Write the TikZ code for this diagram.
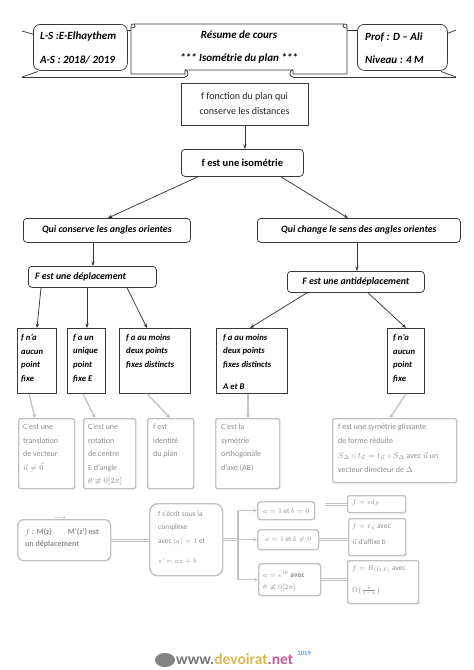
\documentclass[tikz,border=0pt]{standalone}
\usepackage{fontspec}
\setmainfont{Carlito}
\usepackage{amsmath,amssymb}
\usetikzlibrary{arrows.meta,calc}
\definecolor{devgold}{rgb}{0.86,0.72,0.32}
\definecolor{devmag}{rgb}{0.76,0.35,0.62}
\definecolor{devblue}{rgb}{0.35,0.62,0.88}
\begin{document}
\begin{tikzpicture}[x=1pt,y=-1pt,
  ln/.style={draw=black!78, line width=0.75pt},
  arr/.style={ln, -{Stealth[length=4.5pt,width=3.4pt]}},
  rbox/.style={ln, rounded corners=3.5pt, fill=white, inner sep=0pt, anchor=north west},
  sbox/.style={ln, fill=white, inner sep=0pt, anchor=north west},
  hd/.style={inner sep=0pt, font=\fontsize{11}{13}\selectfont\bfseries\itshape},
  lbl/.style={font=\fontsize{9.8}{12}\selectfont\bfseries\itshape},
  txt/.style={inner sep=0pt, align=left, anchor=north west, font=\fontsize{8.7}{13.6}\selectfont\bfseries\itshape},
  fbox/.style={draw=black!24, line width=1.4pt, rounded corners=1.5pt, inner sep=0pt, anchor=north west},
  frbox/.style={fbox, rounded corners=6pt},
  ftxt/.style={inner sep=0pt, align=left, anchor=north west, text=black!45, font=\fontsize{8}{13.5}\selectfont},
  farr/.style={draw=black!24, line width=1.3pt, -{Stealth[length=4pt,width=4pt]}},
  fdouble/.style={draw=black!24, double=white, double distance=1.4pt, line width=0.8pt}
]
\useasboundingbox (0,0) rectangle (474,670);

% ---------- header ribbon ----------
\draw[ln] (22,31) -- (34,34.5);
\draw[ln] (22,77) -- (38,71.5);
\draw[ln] (22,77) -- (185,77);
\draw[ln] (456,30) -- (446,34);
\draw[ln] (456,77) -- (441,71.5);
\draw[ln] (293,77) -- (456,77);
\draw[ln] (127,30) -- (131,30);
\draw[ln] (347,30) -- (357,30);
\node[rbox, rounded corners=7pt, minimum width=94pt, minimum height=46pt] (lb) at (33,24) {};
\node[rbox, rounded corners=7pt, minimum width=90pt, minimum height=46pt] (rb) at (357,24) {};
\draw[ln, fill=white] (131,27) .. controls (131,24) .. (134,24) -- (344,24) .. controls (347,24) .. (347,27)
  -- (347,74) -- (293,74) -- (293,70) -- (185,70) -- (185,74) -- (131,74) -- cycle;
\draw[ln] (185,70) .. controls (189,70) and (189,77) .. (185,77);
\draw[ln] (293,70) .. controls (289,70) and (289,77) .. (293,77);
\draw[ln] (134,24) .. controls (136,25) and (136,28) .. (131,28);
\draw[ln] (344,24) .. controls (342,25) and (342,28) .. (347,28);
\node[hd, anchor=west] (ls) at (40,37) {L-S :E-Elhaythem};
\node[hd, anchor=west] (as) at (40,60) {A-S : 2018/ 2019};
\node[hd] (rc) at (239,35) {Résume de cours};
\node[hd] (iso-t) at (239,58) {*** Isométrie du plan ***};
\node[hd, anchor=west] (pr) at (365,37) {Prof : D – Ali};
\node[hd, anchor=west] (nv) at (365,60) {Niveau : 4 M};

% ---------- main tree ----------
\node[sbox, minimum width=127pt, minimum height=42pt] (ff) at (181,83) {};
\node[inner sep=0pt, align=center, text=black!85, font=\fontsize{10}{15}\selectfont] (ff-t) at (244.5,103.5) {f fonction du plan qui\\conserve les distances};
\node[rbox, minimum width=122pt, minimum height=27pt] (iso) at (181,149) {};
\node[inner sep=0pt, font=\fontsize{10.5}{12}\selectfont\bfseries] (iso-l) at (iso.center) {f est une isométrie};
\node[rbox, minimum width=167pt, minimum height=24pt] (qc) at (23,218) {};
\node[lbl, inner sep=0pt] (qc-l) at (qc.center) {Qui conserve les angles orientes};
\node[rbox, minimum width=203pt, minimum height=24pt] (qch) at (257,218) {};
\node[lbl, inner sep=0pt] (qch-l) at (qch.center) {Qui change le sens des angles orientes};
\node[rbox, minimum width=128pt, minimum height=21pt] (dep) at (28,266) {};
\node[lbl, inner sep=0pt, anchor=west] (dep-l) at ([xshift=7pt]dep.west) {F est une déplacement};
\node[rbox, minimum width=137pt, minimum height=21pt] (anti) at (287,271) {};
\node[lbl, inner sep=0pt] (anti-l) at (anti.center) {F est une antidéplacement};

\node[sbox, minimum width=39pt, minimum height=65pt] (b1) at (17,328) {};
\node[sbox, minimum width=38pt, minimum height=65pt] (b2) at (67,328) {};
\node[sbox, minimum width=71pt, minimum height=65pt] (b3) at (119,328) {};
\node[sbox, minimum width=71pt, minimum height=65pt] (b4) at (216,328) {};
\node[sbox, minimum width=37pt, minimum height=65pt] (b5) at (387,328) {};
\node[txt] (b1-t) at (21,334) {f n’a\\aucun\\point\\fixe};
\node[txt] (b2-t) at (73,334) {f a un\\unique\\point\\fixe E};
\node[txt] (b3-t) at (126,334) {f a au moins\\deux points\\fixes distincts};
\node[txt] (b4-t) at (223,334) {f a au moins\\deux points\\fixes distincts\\[8.4pt]A et B};
\node[txt] (b5-t) at (393,334) {f n’a\\aucun\\point\\fixe};

\draw[arr] (ff.south) -- (ff.south |- iso.north);
\draw[arr] ([xshift=17pt]iso.south west) -- ([xshift=85pt]qc.north west);
\draw[arr] ([xshift=-23pt]iso.south east) -- ([xshift=91pt]qch.north west);
\draw[arr] ([xshift=70pt]qc.south west) -- ([xshift=65pt]dep.north west);
\draw[arr] ([xshift=100pt]qch.south west) -- ([xshift=70pt]anti.north west);
\draw[arr] ([xshift=13pt]dep.south west) -- ([xshift=20pt]b1.north west);
\draw[arr] ([xshift=59pt]dep.south west) -- ([xshift=20pt]b2.north west);
\draw[arr] ([xshift=99pt]dep.south west) -- ([xshift=28pt]b3.north west);
\draw[arr] ([xshift=20pt]anti.south west) -- ([xshift=34pt]b4.north west);
\draw[arr] ([xshift=81pt]anti.south west) -- ([xshift=19pt]b5.north west);

% ---------- blurred lower part ----------
\node[fbox, minimum width=56pt, minimum height=70pt] (c1) at (18,418) {};
\node[fbox, minimum width=52pt, minimum height=70pt] (c2) at (83,418) {};
\node[fbox, minimum width=46pt, minimum height=70pt] (c3) at (147,418) {};
\node[fbox, minimum width=64pt, minimum height=70pt] (c4) at (215,418) {};
\node[fbox, minimum width=124pt, minimum height=64pt] (c5) at (332,418) {};
\node[ftxt] (c1-t) at (23,424) {C’est une\\translation\\de vecteur\\$\vec u\neq\vec 0$};
\node[ftxt] (c2-t) at (88,424) {C’est une\\rotation\\de centre\\E d’angle\\$\theta\not\equiv 0[2\pi]$};
\node[ftxt] (c3-t) at (153,424) {f est\\identité\\du plan};
\node[ftxt] (c4-t) at (221,424) {C’est la\\symétrie\\orthogonale\\d’axe (AB)};
\node[ftxt, font=\fontsize{8}{14.2}\selectfont] (c5-t) at (338,424) {f est une symétrie glissante\\de forme réduite\\$S_\Delta\circ t_{\vec u}=t_{\vec u}\circ S_\Delta$ avec $\vec u$ un\\vecteur directeur de $\Delta$};
\draw[farr] ([xshift=12pt]b1.south west) -- ([xshift=17pt]c1.north west);
\draw[farr] ([xshift=16pt]b2.south west) -- ([xshift=12pt]c2.north west);
\draw[farr] ([xshift=28pt]b3.south west) -- ([xshift=23pt]c3.north west);
\draw[farr] ([xshift=32pt]b4.south west) -- ([xshift=33pt]c4.north west);
\draw[farr] ([xshift=19pt]b5.south west) -- ([xshift=58pt]c5.north west);

\node[frbox, minimum width=93pt, minimum height=41pt] (d1) at (17,519) {};
\node[frbox, rounded corners=8pt, minimum width=73pt, minimum height=72pt] (d2) at (149,503) {};
\node[fbox, rounded corners=3pt, minimum width=57pt, minimum height=18pt] (e1) at (257,501) {};
\node[fbox, rounded corners=3pt, minimum width=61pt, minimum height=20pt] (e2) at (257,529) {};
\node[fbox, rounded corners=3pt, minimum width=62pt, minimum height=32pt] (e3) at (258,563) {};
\node[fbox, minimum width=58pt, minimum height=17pt] (f1) at (347,495) {};
\node[fbox, minimum width=57pt, minimum height=37pt] (f2) at (348,518) {};
\node[fbox, minimum width=71pt, minimum height=43pt] (f3) at (347,560) {};

\node[ftxt, font=\fontsize{8}{12}\selectfont\bfseries] (d1-t) at (25,528) {$f$ : M(z)\qquad M’(z’) est\\un déplacement};
\node[inner sep=0pt, text=black!45, font=\fontsize{6}{7}\selectfont] (d1-a) at (60,518) {$\longmapsto$};
\node[ftxt, font=\fontsize{7.5}{13.4}\selectfont] (d2-t) at (158,511) {f s’écrit sous la\\complexe\\avec $|a|=1$ et\\[7pt]$z’=az+b$};
\node[inner sep=0pt, text=black!45, font=\fontsize{7}{9}\selectfont] (e1-t) at (e1.center) {$a=1$ et $b=0$};
\node[inner sep=0pt, text=black!45, font=\fontsize{7}{9}\selectfont] (e2-t) at (e2.center) {$a=1$ et $b\neq0$};
\node[ftxt, font=\fontsize{7.5}{12}\selectfont\bfseries] (e3-t) at (263,571) {$a=e^{i\theta}$ avec\\$\theta\not\equiv0[2\pi]$};
\node[ftxt, font=\fontsize{7.5}{12}\selectfont] (f1-t) at (352,499) {$f=id_P$};
\node[ftxt, font=\fontsize{7.5}{16}\selectfont] (f2-t) at (352,523) {$f=t_{\vec u}$ avec\\$\vec u$ d’affixe b};
\node[ftxt, font=\fontsize{7.5}{22}\selectfont] (f3-t) at (352,565) {$f=R_{(\Omega,\theta)}$ avec\\$\Omega\big(\frac{b}{1-a}\big)$};

\coordinate (jx) at (238,540);
\draw[fdouble] (d1.east) -- (d2.west |- d1.east);
\draw[fdouble] (d2.east) -- (jx |- d2.east);
\draw[draw=black!24, line width=1.3pt] (jx |- e1.west) -- (jx |- e3.west);
\draw[farr] (jx |- e1.west) -- (e1.west);
\draw[farr] (jx |- e2.west) -- (e2.west);
\draw[farr] (jx |- e3.west) -- (e3.west);
\draw[fdouble] ($(f1.west)+(-22,0)$) -- (f1.west);
\draw[fdouble] (e2.east) -- (e2.east -| f2.west);
\draw[fdouble] (e3.east) -- (e3.east -| f3.west);

% ---------- watermark ----------
\fill[black!65, opacity=.75] (165,660) ellipse (10pt and 7pt);
\node[inner sep=0pt, anchor=west, font=\fontsize{15.5}{17}\selectfont\bfseries] (wm) at (176,659)
  {\textcolor{black!55}{www.}\textcolor{devgold}{devoirat}\textcolor{devmag}{.net}};
\node[inner sep=0pt, anchor=west, text=devblue, font=\fontsize{6.5}{7}\selectfont\bfseries] (wm-s) at ([xshift=4pt]wm.north east) {2019};
\end{tikzpicture}
\end{document}
